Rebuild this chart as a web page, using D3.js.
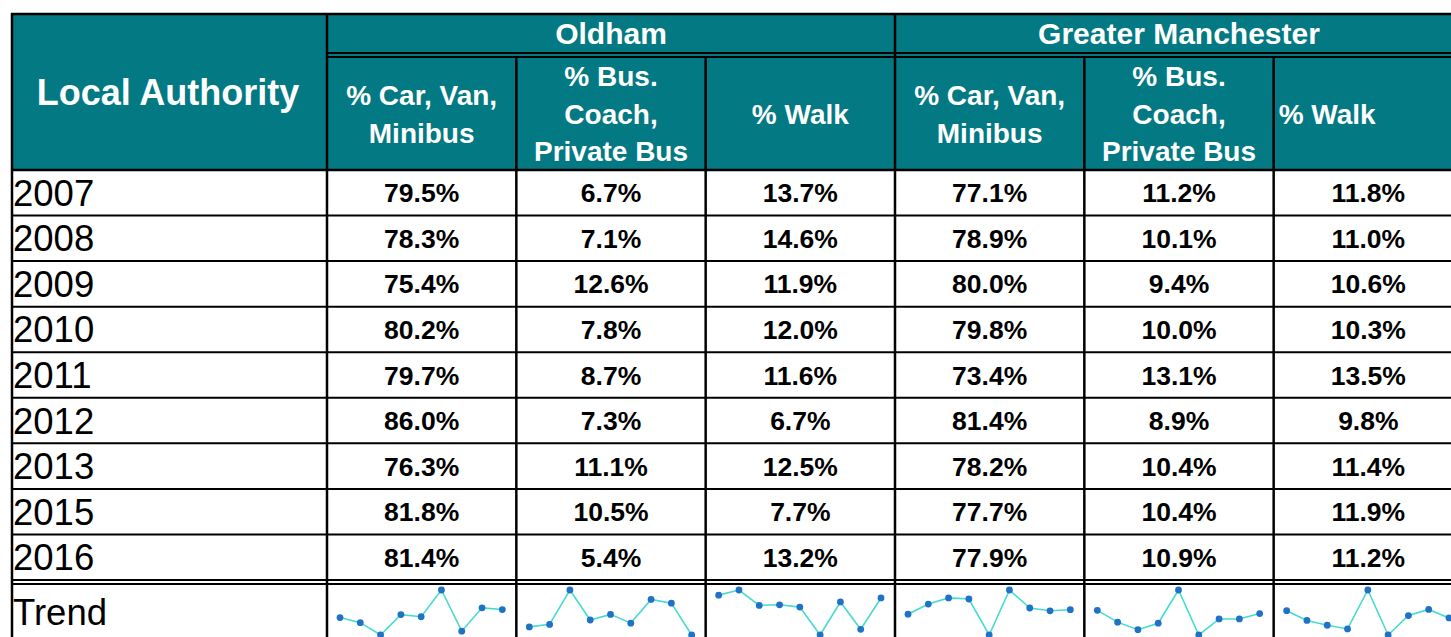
<!DOCTYPE html>
<html>
<head>
<meta charset="utf-8">
<script src="https://cdn.jsdelivr.net/npm/d3@7"></script>
<style>
  html, body { margin: 0; padding: 0; background: #fff; }
  svg { display: block; }
</style>
</head>
<body>
<div id="chart"></div>
<script>
// Travel-to-work mode share table with sparkline trend row.

const years = ["2007", "2008", "2009", "2010", "2011", "2012", "2013", "2015", "2016"];
const groups = ["Oldham", "Greater Manchester"];
const headerLines = [
    ["% Car, Van,", "Minibus"],
    ["% Bus.", "Coach,", "Private Bus"],
    ["% Walk"],
];

const oldhamCar  = [79.5, 78.3, 75.4, 80.2, 79.7, 86.0, 76.3, 81.8, 81.4];
const oldhamBus  = [6.7, 7.1, 12.6, 7.8, 8.7, 7.3, 11.1, 10.5, 5.4];
const oldhamWalk = [13.7, 14.6, 11.9, 12.0, 11.6, 6.7, 12.5, 7.7, 13.2];
const gmCar      = [77.1, 78.9, 80.0, 79.8, 73.4, 81.4, 78.2, 77.7, 77.9];
const gmBus      = [11.2, 10.1, 9.4, 10.0, 13.1, 8.9, 10.4, 10.4, 10.9];
const gmWalk     = [11.8, 11.0, 10.6, 10.3, 13.5, 9.8, 11.4, 11.9, 11.2];

const series = [oldhamCar, oldhamBus, oldhamWalk, gmCar, gmBus, gmWalk];

// --- geometry ---------------------------------------------------------------
const W = 1451, H = 637;
const TEAL = "#037983";
const LEFT = 11, FIRST_COL_END = 327, TABLE_END = 1463;
const TOP = 13, GROUP_ROW_END = 53, SUB_ROW_START = 57, HEADER_END = 170;
const DATA_END = 580, TREND_START = 584;

const fmt = d3.format(".1f");

const svg = d3.select("#chart").append("svg")
    .attr("width", W)
    .attr("height", H)
    .attr("viewBox", `0 0 ${W} ${H}`)
    .style("font-family", "Arial, 'Liberation Sans', sans-serif");

// Column and row scales.
const colX = d3.scaleBand()
    .domain(d3.range(series.length))
    .range([FIRST_COL_END, TABLE_END]);
const groupX = d3.scaleBand()
    .domain(groups)
    .range([FIRST_COL_END, TABLE_END]);
const rowY = d3.scaleBand()
    .domain(years)
    .range([HEADER_END, DATA_END]);

// Header background.
svg.append("rect")
    .attr("x", LEFT).attr("y", TOP)
    .attr("width", TABLE_END - LEFT).attr("height", HEADER_END - TOP)
    .attr("fill", TEAL);

// Header texts.
svg.append("text")
    .attr("x", (LEFT + FIRST_COL_END) / 2 - 1)
    .attr("y", (TOP + HEADER_END) / 2 + 13)
    .attr("text-anchor", "middle")
    .attr("font-size", "36px")
    .attr("font-weight", "bold")
    .attr("fill", "#fff")
    .text("Local Authority");

svg.append("g")
    .selectAll("text")
    .data(groups)
    .join("text")
    .attr("x", (d) => groupX(d) + groupX.bandwidth() / 2)
    .attr("y", (TOP + GROUP_ROW_END) / 2 + 11)
    .attr("text-anchor", "middle")
    .attr("font-size", "30px")
    .attr("font-weight", "bold")
    .attr("fill", "#fff")
    .text((d) => d);

const subCenter = (SUB_ROW_START + HEADER_END) / 2;
const subHeads = svg.append("g")
    .selectAll("text")
    .data(d3.range(series.length))
    .join("text")
    .attr("font-size", "28px")
    .attr("font-weight", "bold")
    .attr("fill", "#fff")
    .attr("text-anchor", (i) => i === 5 ? "start" : "middle")
    .attr("x", (i) => i === 5 ? colX(i) + 5 : colX(i) + colX.bandwidth() / 2);

subHeads.each(function (i) {
    const lines = headerLines[i % 3];
    const lh = lines.length === 3 ? 37.5 : 38;
    const sel = d3.select(this);
    const x = sel.attr("x");
    lines.forEach((ln, k) => {
        sel.append("tspan")
            .attr("x", x)
            .attr("y", subCenter + (k - (lines.length - 1) / 2) * lh + 10)
            .text(ln);
    });
});

// Year labels and values.
svg.append("g")
    .selectAll("text")
    .data(years)
    .join("text")
    .attr("x", 13)
    .attr("y", (d) => rowY(d) + rowY.bandwidth() / 2 + 13)
    .attr("font-size", "36.5px")
    .attr("fill", "#000")
    .text((d) => d);

series.forEach((vals, i) => {
    svg.append("g")
        .selectAll("text")
        .data(vals)
        .join("text")
        .attr("x", colX(i) + colX.bandwidth() / 2)
        .attr("y", (d, k) => rowY(years[k]) + rowY.bandwidth() / 2 + 9.5)
        .attr("text-anchor", "middle")
        .attr("font-size", "26.5px")
        .attr("font-weight", "bold")
        .attr("fill", "#000")
        .text((d) => fmt(d) + "%");
});

svg.append("text")
    .attr("x", 13)
    .attr("y", 625)
    .attr("font-size", "36.5px")
    .attr("fill", "#000")
    .text("Trend");

// Sparklines.
series.forEach((vals, i) => {
    const x = d3.scalePoint()
        .domain(years)
        .range([colX(i) + 13, colX(i) + colX.bandwidth() - 14]);
    const y = d3.scaleLinear()
        .domain(d3.extent(vals))
        .range([635, 590]);
    const line = d3.line()
        .x((d, k) => x(years[k]))
        .y((d) => y(d));
    const g = svg.append("g").attr("class", "spark");
    g.append("path")
        .attr("d", line(vals))
        .attr("fill", "none")
        .attr("stroke", "#45dccf")
        .attr("stroke-width", 1.6);
    g.selectAll("circle")
        .data(vals)
        .join("circle")
        .attr("cx", (d, k) => x(years[k]))
        .attr("cy", (d) => y(d))
        .attr("r", 3.4)
        .attr("fill", "#1f72c6");
});

// Grid lines.
const grid = svg.append("g").attr("stroke", "#000").attr("fill", "none");
const hline = (y, x0, x1, w) => grid.append("line")
    .attr("x1", x0).attr("x2", x1).attr("y1", y).attr("y2", y)
    .attr("stroke-width", w);
const vline = (x, y0, y1, w) => grid.append("line")
    .attr("x1", x).attr("x2", x).attr("y1", y0).attr("y2", y1)
    .attr("stroke-width", w);

hline(TOP + 1, LEFT, TABLE_END, 2.5);
hline(GROUP_ROW_END, FIRST_COL_END, TABLE_END, 2);
hline(SUB_ROW_START, FIRST_COL_END, TABLE_END, 2);
hline(HEADER_END, LEFT, TABLE_END, 2.5);
years.slice(1).forEach((yr) => hline(rowY(yr), LEFT, TABLE_END, 2));
hline(DATA_END, LEFT, TABLE_END, 2);
hline(TREND_START, LEFT, TABLE_END, 2);

vline(LEFT + 1, TOP, H, 2.5);
vline(FIRST_COL_END, TOP, H, 2.5);
vline(groupX(groups[1]), TOP, H, 2.5);
d3.range(1, series.length).filter((i) => i !== 3)
    .forEach((i) => vline(colX(i), SUB_ROW_START, H, 2.5));
</script>
</body>
</html>
